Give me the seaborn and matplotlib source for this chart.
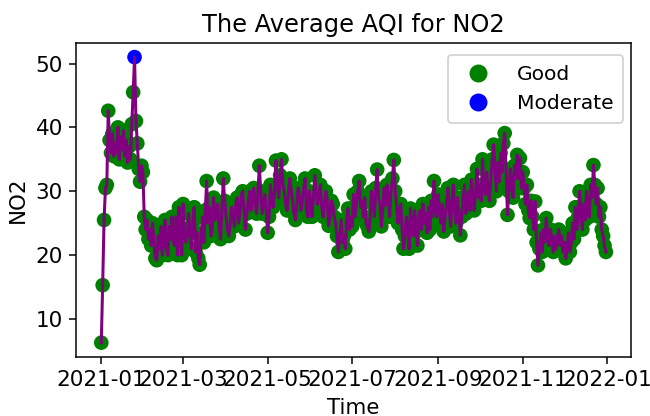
import numpy as np
import pandas as pd
import matplotlib
matplotlib.use("Agg")
import matplotlib.pyplot as plt
from matplotlib.lines import Line2D
import seaborn as sns

start_date = "2021-01-01"
jan = [6.3, 15.3, 25.5, 30.5, 31.0, 42.6, 38.0, 36.0, 39.0, 35.5, 37.5, 36.0, 40.0, 35.0, 38.5, 36.5,
       39.5, 35.5, 38.0, 34.5, 37.0, 35.0, 40.5, 45.5, 51.0, 41.0, 37.5, 33.5, 31.5, 34.0, 33.0]
feb = [26.0, 24.0, 25.5, 22.5, 24.0, 21.5, 25.0, 22.0, 19.5, 19.2, 23.0, 21.0, 24.5, 20.0, 22.0, 25.5,
       21.0, 20.0, 24.5, 22.5, 26.0, 22.0, 21.5, 26.0, 20.0, 27.5, 23.5, 20.0]
mar = [28.0, 24.0, 22.0, 23.0, 26.5, 24.0, 21.0, 25.0, 27.5, 20.5, 23.5, 19.5, 18.5, 23.0, 26.0, 22.0,
       27.0, 31.6, 25.0, 27.5, 23.0, 24.0, 29.0, 25.5, 27.0, 28.0, 24.5, 22.5, 27.0, 32.0, 28.5]
apr = [26.0, 24.0, 23.0, 25.0, 27.5, 26.0, 24.5, 28.0, 29.0, 25.0, 26.5, 29.5, 30.0, 27.0, 24.0, 26.5,
       28.5, 30.0, 27.0, 29.5, 30.5, 28.0, 26.5, 30.0, 34.0, 30.0, 26.5, 28.0, 29.5, 27.0]
may = [23.5, 26.0, 31.0, 29.0, 27.5, 30.0, 34.8, 31.0, 29.0, 32.5, 35.0, 31.0, 30.0, 28.0, 27.0, 29.5,
       32.0, 30.0, 28.5, 26.5, 25.5, 28.0, 30.5, 29.0, 27.0, 28.5, 30.5, 32.0, 27.0, 26.0, 30.0]
jun = [28.5, 26.0, 29.0, 32.5, 30.0, 28.0, 29.5, 31.0, 27.5, 26.0, 28.0, 30.0, 28.5, 24.6, 26.0, 28.5,
       28.0, 26.0, 25.0, 23.0, 20.5, 23.0, 25.5, 22.0, 23.0, 21.0, 25.5, 27.3, 24.0, 26.0]
jul = [24.5, 29.5, 26.0, 28.0, 30.0, 31.6, 27.5, 28.5, 26.0, 29.0, 25.0, 24.5, 23.7, 26.0, 30.0, 28.0,
       26.0, 30.5, 33.4, 29.0, 28.0, 24.5, 27.0, 30.5, 27.8, 31.0, 29.0, 26.0, 30.0, 32.0, 34.9]
aug = [30.0, 28.0, 25.0, 27.0, 28.0, 24.0, 21.0, 23.0, 26.0, 24.5, 21.0, 27.3, 25.0, 23.0, 27.0, 24.5,
       21.5, 26.0, 27.0, 24.0, 28.0, 25.0, 26.5, 23.5, 27.5, 24.0, 28.5, 26.0, 31.6, 27.0, 26.0]
sep = [29.5, 27.0, 25.0, 28.0, 23.7, 26.0, 28.0, 30.5, 27.0, 24.5, 29.0, 31.0, 27.0, 25.0, 29.0, 26.5,
       23.1, 26.0, 29.0, 31.0, 26.5, 28.0, 30.0, 27.0, 31.8, 29.0, 27.0, 30.0, 33.5, 29.0]
oct_ = [31.0, 28.5, 35.0, 31.0, 29.5, 33.0, 30.0, 28.5, 32.0, 35.0, 37.3, 33.0, 30.0, 34.5, 31.5, 36.0,
        33.0, 37.5, 39.1, 33.0, 26.3, 30.0, 33.5, 31.0, 29.0, 34.0, 32.0, 35.7, 32.0, 35.2, 30.5]
nov = [33.0, 30.5, 28.0, 31.0, 27.0, 25.8, 28.5, 26.0, 24.0, 28.4, 22.0, 18.4, 21.0, 23.5, 20.5, 24.0,
       22.0, 25.8, 23.0, 21.5, 24.0, 22.5, 20.5, 23.0, 21.0, 22.5, 24.0, 21.5, 23.0, 20.5]
dec = [22.0, 19.5, 21.0, 23.5, 20.5, 22.0, 25.0, 22.5, 27.5, 24.0, 26.0, 30.0, 26.5, 24.0, 28.0, 25.5,
       30.0, 27.0, 26.0, 31.0, 29.0, 34.1, 31.0, 28.0, 30.5, 26.0, 27.5, 24.0, 23.0, 21.5, 20.5]
no2_values = jan + feb + mar + apr + may + jun + jul + aug + sep + oct_ + nov + dec

category_labels = ["Good", "Moderate"]
category_colors = ["green", "blue"]
moderate_threshold = 50

dates = pd.date_range(start_date, periods=len(no2_values), freq="D")
df = pd.DataFrame({"Time": dates, "NO2": no2_values})
df["AQI"] = np.where(df["NO2"] > moderate_threshold, category_labels[1], category_labels[0])

fig, ax = plt.subplots(figsize=(650 / 136, 416 / 136), dpi=136)
sns.scatterplot(data=df, x="Time", y="NO2", hue="AQI", hue_order=category_labels,
                palette=dict(zip(category_labels, category_colors)), s=60,
                edgecolor="none", ax=ax, zorder=2, legend=False)
sns.lineplot(data=df, x="Time", y="NO2", color="purple", linewidth=1.6, ax=ax, zorder=3)

handles = [Line2D([], [], marker="o", linestyle="none", color=c, markersize=8.5)
           for c in category_colors]
ax.legend(handles, category_labels, loc="upper right", bbox_to_anchor=(0.986, 0.962),
          borderaxespad=0, fontsize=10.7, handletextpad=0.9, borderpad=0.5)

ax.set_title("The Average AQI for NO2", fontsize=12.8)
ax.set_xlabel("Time", fontsize=11.3)
ax.set_ylabel("NO2", fontsize=11.3)
ax.tick_params(axis="both", labelsize=11.4)
fig.subplots_adjust(left=0.117, right=0.971, bottom=0.142, top=0.897)
fig.savefig("out.png", dpi=136)
